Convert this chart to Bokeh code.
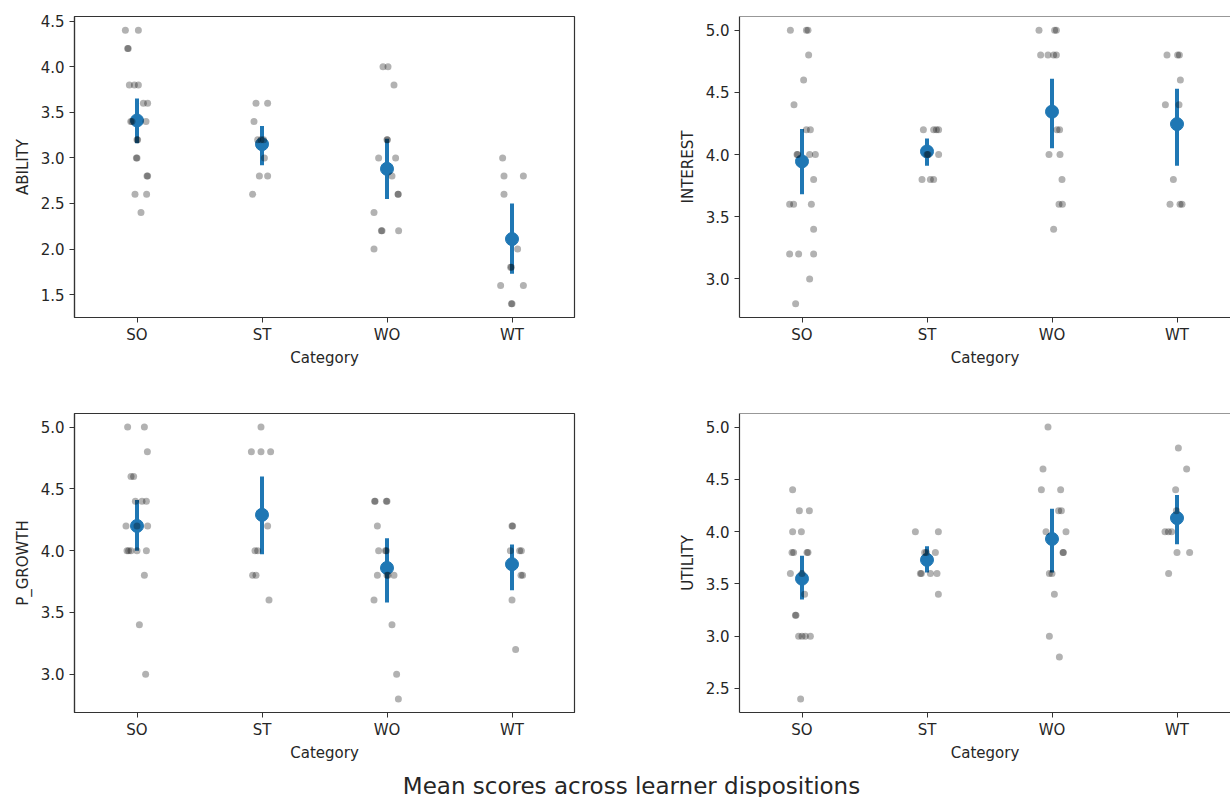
from bokeh.plotting import figure
from bokeh.layouts import column, row
from bokeh.models import Range1d, FixedTicker, Span
from bokeh.core.properties import value
from bokeh.embed import file_html
from bokeh.resources import INLINE

CATEGORIES = ["SO", "ST", "WO", "WT"]
TITLE = "Mean scores across learner dispositions"

# ---------------- ABILITY ----------------
ability_so = [4.4, 4.4, 4.2, 4.2, 3.8, 3.8, 3.8, 3.6, 3.6, 3.4, 3.4, 3.4, 3.2, 3.2, 3.0, 3.0, 2.8, 2.8, 2.6, 2.6, 2.4]
ability_so_jit = [-0.093, 0.011, -0.075, -0.07, -0.061, -0.021, 0.011, 0.051, 0.085, -0.05, -0.04, 0.072, 0.0, 0.005, 0.0, -0.005, 0.08, 0.085, -0.016, 0.077, 0.032]
ability_st = [3.6, 3.6, 3.4, 3.2, 3.2, 3.2, 3.0, 2.8, 2.8, 2.6]
ability_st_jit = [-0.048, 0.045, -0.064, -0.035, -0.008, 0.013, 0.019, -0.021, 0.045, -0.075]
ability_wo = [4.0, 4.0, 3.8, 3.2, 3.2, 3.0, 3.0, 2.8, 2.6, 2.6, 2.4, 2.2, 2.2, 2.2, 2.0]
ability_wo_jit = [-0.032, 0.008, 0.056, 0.0, 0.003, -0.067, 0.069, 0.04, 0.088, 0.09, -0.104, -0.045, -0.04, 0.093, -0.104]
ability_wt = [3.0, 2.8, 2.8, 2.6, 2.0, 1.8, 1.8, 1.6, 1.6, 1.4, 1.4]
ability_wt_jit = [-0.075, -0.064, 0.091, -0.064, 0.045, -0.011, -0.005, -0.091, 0.091, -0.005, 0.0]
ability_mean = [3.41, 3.15, 2.88, 2.11]
ability_low = [3.16, 2.92, 2.55, 1.73]
ability_high = [3.65, 3.35, 3.21, 2.50]
ability_ticks = [1.5, 2.0, 2.5, 3.0, 3.5, 4.0, 4.5]

# ---------------- INTEREST ----------------
interest_so = [5.0, 5.0, 5.0, 4.8, 4.6, 4.4, 4.2, 4.2, 4.0, 4.0, 4.0, 4.0, 3.8, 3.6, 3.6, 3.6, 3.4, 3.2, 3.2, 3.2, 3.0, 2.8]
interest_so_jit = [-0.093, 0.035, 0.048, 0.053, 0.013, -0.064, 0.035, 0.067, -0.04, -0.035, 0.061, 0.107, 0.093, -0.099, -0.067, 0.075, 0.093, -0.099, -0.027, 0.093, 0.061, -0.051]
interest_st = [4.2, 4.2, 4.2, 4.2, 4.0, 4.0, 4.0, 3.8, 3.8, 3.8]
interest_st_jit = [-0.029, 0.053, 0.075, 0.093, 0.0, 0.008, 0.093, -0.04, 0.027, 0.053]
interest_wo = [5.0, 5.0, 5.0, 4.8, 4.8, 4.8, 4.8, 4.2, 4.2, 4.0, 4.0, 3.8, 3.6, 3.6, 3.4]
interest_wo_jit = [-0.104, 0.021, 0.035, -0.091, -0.032, 0.013, 0.035, 0.04, 0.061, -0.024, 0.064, 0.08, 0.056, 0.083, 0.013]
interest_wt = [4.8, 4.8, 4.8, 4.6, 4.4, 4.4, 3.8, 3.6, 3.6, 3.6]
interest_wt_jit = [-0.08, 0.005, 0.019, 0.027, -0.093, 0.016, -0.029, -0.056, 0.024, 0.04]
interest_mean = [3.945, 4.025, 4.345, 4.245]
interest_low = [3.68, 3.91, 4.05, 3.91]
interest_high = [4.205, 4.13, 4.61, 4.53]
interest_ticks = [3.0, 3.5, 4.0, 4.5, 5.0]

# ---------------- P_GROWTH ----------------
pgrowth_so = [5.0, 5.0, 4.8, 4.6, 4.6, 4.4, 4.4, 4.4, 4.2, 4.2, 4.2, 4.0, 4.0, 4.0, 4.0, 4.0, 3.8, 3.4, 3.0]
pgrowth_so_jit = [-0.075, 0.059, 0.083, -0.048, -0.027, -0.013, 0.04, 0.075, -0.088, 0.0, 0.085, -0.08, -0.067, -0.048, 0.0, 0.075, 0.059, 0.019, 0.069]
pgrowth_st = [5.0, 4.8, 4.8, 4.8, 4.2, 4.0, 4.0, 3.8, 3.8, 3.6]
pgrowth_st_jit = [-0.008, -0.085, -0.008, 0.069, 0.045, -0.056, -0.035, -0.075, -0.048, 0.056]
pgrowth_wo = [4.4, 4.4, 4.4, 4.4, 4.2, 4.0, 4.0, 4.0, 3.8, 3.8, 3.8, 3.8, 3.6, 3.4, 3.0, 2.8]
pgrowth_wo_jit = [-0.099, -0.095, -0.005, 0.0, -0.077, -0.067, -0.013, -0.005, -0.077, 0.0, 0.008, 0.056, -0.104, 0.04, 0.077, 0.091]
pgrowth_wt = [4.2, 4.2, 4.0, 4.0, 4.0, 3.8, 3.8, 3.6, 3.2]
pgrowth_wt_jit = [0.005, 0.0, -0.013, 0.061, 0.075, 0.072, 0.085, 0.0, 0.029]
pgrowth_mean = [4.20, 4.29, 3.86, 3.89]
pgrowth_low = [4.00, 3.97, 3.58, 3.68]
pgrowth_high = [4.41, 4.60, 4.10, 4.05]
pgrowth_ticks = [3.0, 3.5, 4.0, 4.5, 5.0]

# ---------------- UTILITY ----------------
utility_so = [4.4, 4.2, 4.2, 4.0, 4.0, 3.8, 3.8, 3.8, 3.8, 3.6, 3.6, 3.4, 3.2, 3.2, 3.0, 3.0, 3.0, 3.0, 2.4]
utility_so_jit = [-0.075, -0.021, 0.059, -0.075, -0.005, -0.08, -0.067, 0.04, 0.048, -0.093, 0.0, 0.021, -0.053, -0.048, -0.027, 0.0, 0.027, 0.067, -0.011]
utility_st = [4.0, 4.0, 3.8, 3.8, 3.8, 3.6, 3.6, 3.6, 3.6, 3.4]
utility_st_jit = [-0.093, 0.091, -0.019, -0.005, 0.067, -0.053, -0.045, 0.027, 0.08, 0.091]
utility_wo = [5.0, 4.6, 4.4, 4.4, 4.2, 4.2, 4.0, 4.0, 3.8, 3.8, 3.6, 3.6, 3.4, 3.0, 2.8]
utility_wo_jit = [-0.032, -0.072, -0.085, 0.069, 0.053, 0.075, -0.048, 0.112, 0.088, 0.091, -0.021, 0.0, 0.019, -0.021, 0.059]
utility_wt = [4.8, 4.6, 4.4, 4.2, 4.0, 4.0, 4.0, 3.8, 3.8, 3.6]
utility_wt_jit = [0.011, 0.077, -0.011, -0.005, -0.096, -0.069, -0.043, 0.0, 0.101, -0.067]
utility_mean = [3.55, 3.73, 3.93, 4.13]
utility_low = [3.35, 3.61, 3.61, 3.88]
utility_high = [3.77, 3.86, 4.22, 4.35]
utility_ticks = [2.5, 3.0, 3.5, 4.0, 4.5, 5.0]

FONT = "DejaVu Sans"
SPINE = "#333333"
TEXT = "#262626"
BLUE = "#1f77b4"


def make_panel(label, groups, jitters, means, lows, highs, ticks,
               width, height, b_left, b_right, b_top, b_bottom, x_end, clipped):
    all_vals = [v for g in groups for v in g]
    lo, hi = min(all_vals), max(all_vals)
    pad = (hi - lo) * 0.05
    p = figure(width=width, height=height, output_backend="svg", toolbar_location=None,
               x_range=Range1d(-0.5, x_end), y_range=Range1d(lo - pad, hi + pad),
               min_border_left=b_left, min_border_right=b_right,
               min_border_top=b_top, min_border_bottom=b_bottom)
    p.xgrid.visible = False
    p.ygrid.visible = False
    p.background_fill_color = "white"
    p.border_fill_color = "white"
    if clipped:
        p.outline_line_color = None
        p.add_layout(Span(location=hi + pad, dimension="width", line_color=SPINE, line_width=1.2))
    else:
        p.outline_line_color = SPINE
        p.outline_line_width = 1.2
        p.outline_line_alpha = 1.0

    # mean and confidence interval
    idx = list(range(len(CATEGORIES)))
    p.segment(x0=idx, y0=lows, x1=idx, y1=highs, line_color=BLUE, line_width=4)
    p.scatter(x=idx, y=means, size=13, fill_color=BLUE, line_color=BLUE)

    # individual points
    xs, ys = [], []
    for i, (vals, jit) in enumerate(zip(groups, jitters)):
        for v, j in zip(vals, jit):
            xs.append(i + j)
            ys.append(v)
    p.scatter(x=xs, y=ys, size=7, fill_color="black", fill_alpha=0.3, line_color=None)

    p.xaxis.ticker = FixedTicker(ticks=idx)
    p.xaxis.major_label_overrides = {i: c for i, c in enumerate(CATEGORIES)}
    p.yaxis.ticker = FixedTicker(ticks=ticks)
    p.yaxis.major_label_overrides = {t: f"{t:.1f}" for t in ticks}
    p.xaxis.axis_label = "Category"
    p.yaxis.axis_label = label
    for ax in p.axis:
        ax.axis_line_color = SPINE
        ax.axis_line_width = 1.2
        ax.major_tick_line_color = SPINE
        ax.major_tick_line_width = 1
        ax.major_tick_out = 5
        ax.major_tick_in = 0
        ax.minor_tick_line_color = None
        ax.major_label_text_font = FONT
        ax.major_label_text_font_size = "15px"
        ax.major_label_text_color = TEXT
        ax.axis_label_text_font = FONT
        ax.axis_label_text_font_size = "15px"
        ax.axis_label_text_font_style = "normal"
        ax.axis_label_text_color = TEXT
    p.xaxis.major_label_standoff = 3
    p.xaxis.axis_label_standoff = 2
    p.yaxis.major_label_standoff = 5
    p.yaxis.axis_label_standoff = 6
    return p


LEFT_W, RIGHT_W = 584, 646
LEFT_B, RIGHT_B = 74, 155
H1, H2 = 380, 384
RIGHT_XEND = -0.5 + (RIGHT_W - RIGHT_B) / 125.0

p_ability = make_panel("ABILITY", [ability_so, ability_st, ability_wo, ability_wt],
                       [ability_so_jit, ability_st_jit, ability_wo_jit, ability_wt_jit],
                       ability_mean, ability_low, ability_high, ability_ticks,
                       LEFT_W, H1, LEFT_B, 10, 16, 63, 3.5, False)
p_interest = make_panel("INTEREST", [interest_so, interest_st, interest_wo, interest_wt],
                        [interest_so_jit, interest_st_jit, interest_wo_jit, interest_wt_jit],
                        interest_mean, interest_low, interest_high, interest_ticks,
                        RIGHT_W, H1, RIGHT_B, 0, 16, 63, RIGHT_XEND, True)
p_pgrowth = make_panel("P_GROWTH", [pgrowth_so, pgrowth_st, pgrowth_wo, pgrowth_wt],
                       [pgrowth_so_jit, pgrowth_st_jit, pgrowth_wo_jit, pgrowth_wt_jit],
                       pgrowth_mean, pgrowth_low, pgrowth_high, pgrowth_ticks,
                       LEFT_W, H2, LEFT_B, 10, 33, 50, 3.5, False)
p_utility = make_panel("UTILITY", [utility_so, utility_st, utility_wo, utility_wt],
                       [utility_so_jit, utility_st_jit, utility_wo_jit, utility_wt_jit],
                       utility_mean, utility_low, utility_high, utility_ticks,
                       RIGHT_W, H2, RIGHT_B, 0, 33, 50, RIGHT_XEND, True)

TITLE_H = 33
title_fig = figure(width=LEFT_W + RIGHT_W, height=TITLE_H, output_backend="svg", toolbar_location=None,
                   x_range=Range1d(0, LEFT_W + RIGHT_W), y_range=Range1d(0, TITLE_H),
                   x_axis_location=None, y_axis_location=None,
                   min_border=0, min_border_left=0, min_border_right=0,
                   min_border_top=0, min_border_bottom=0)
title_fig.xgrid.visible = False
title_fig.ygrid.visible = False
title_fig.outline_line_color = None
title_fig.text(x=[631], y=[12], text=[TITLE], text_font=value(FONT), text_font_size="23px",
               text_align="center", text_baseline="middle", text_color=TEXT)

layout = column(row(p_ability, p_interest), row(p_pgrowth, p_utility), title_fig)

open("out.html", "w").write(file_html(layout, INLINE))
